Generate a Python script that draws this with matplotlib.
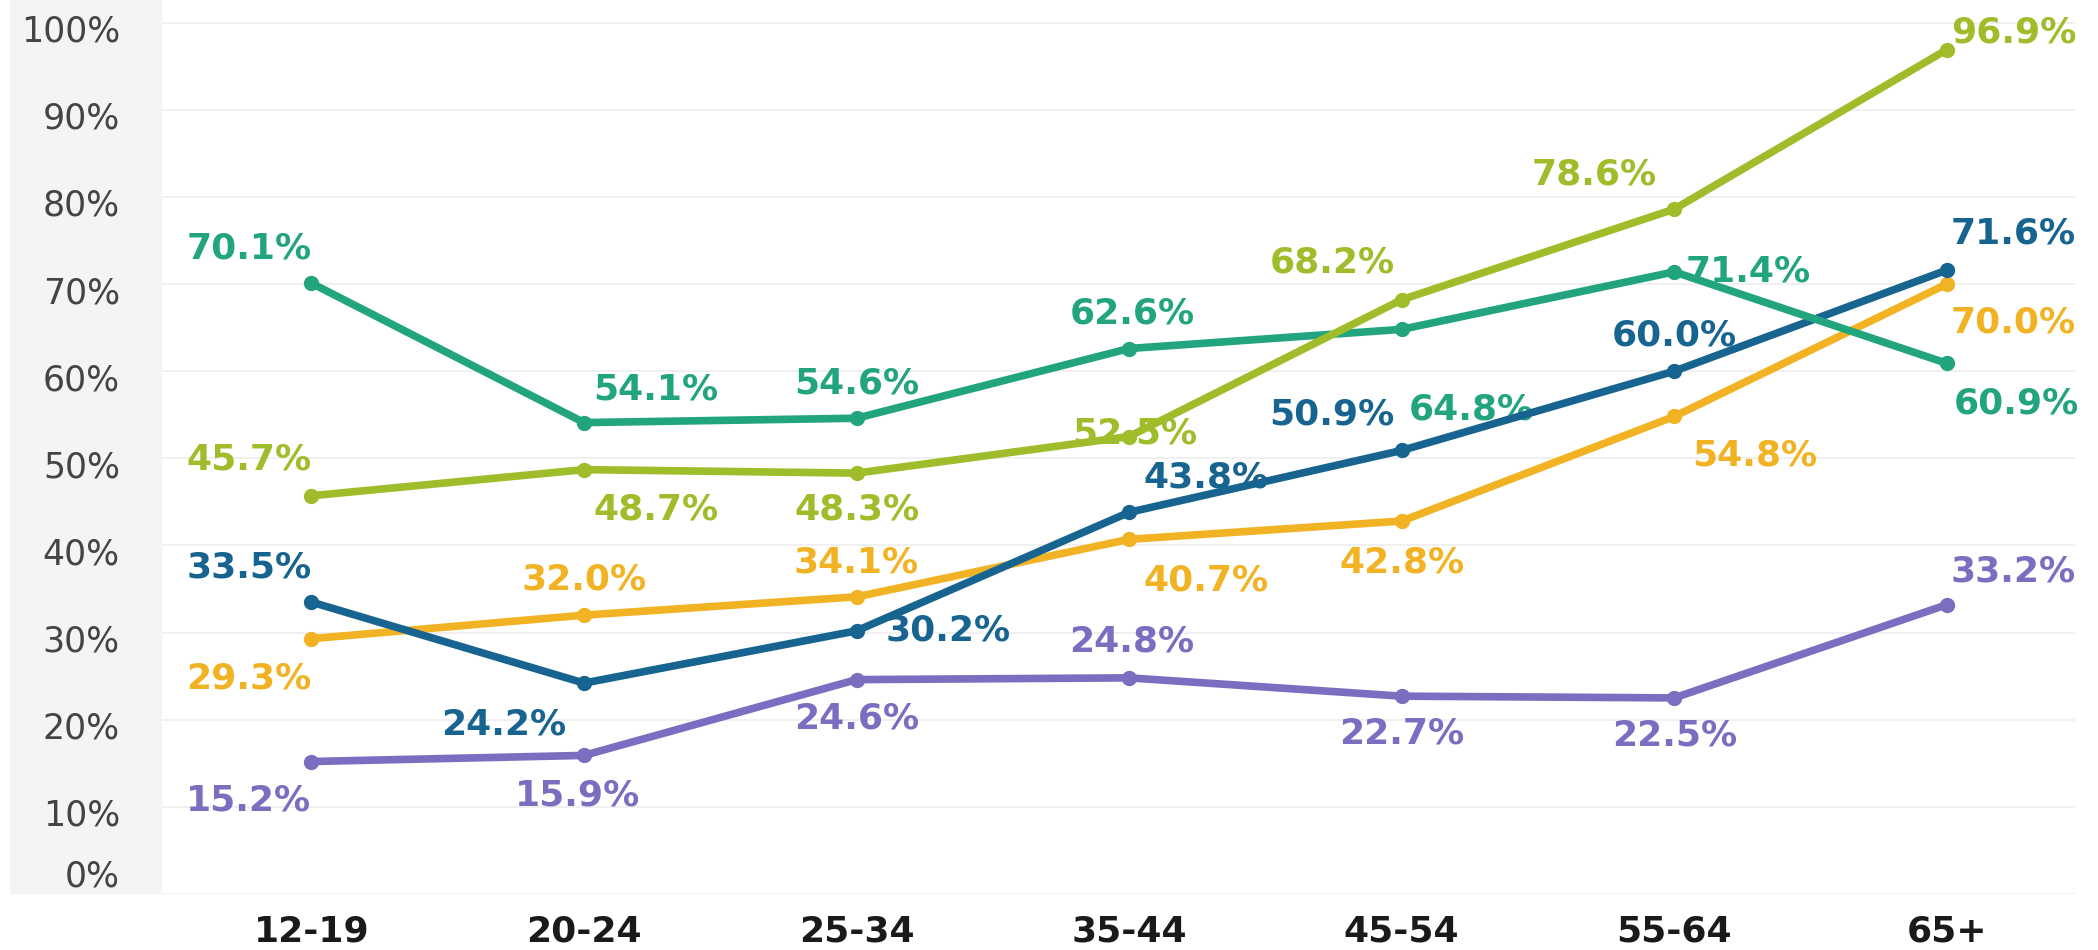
import numpy as np
import matplotlib.pyplot as plt
from matplotlib.patches import Rectangle
from matplotlib.transforms import ScaledTranslation

age_groups = ['12-19', '20-24', '25-34', '35-44', '45-54', '55-64', '65+']

# series values (%)
teal_vals = [70.1, 54.1, 54.6, 62.6, 64.8, 71.4, 60.9]
lime_vals = [45.7, 48.7, 48.3, 52.5, 68.2, 78.6, 96.9]
blue_vals = [33.5, 24.2, 30.2, 43.8, 50.9, 60.0, 71.6]
gold_vals = [29.3, 32.0, 34.1, 40.7, 42.8, 54.8, 70.0]
purple_vals = [15.2, 15.9, 24.6, 24.8, 22.7, 22.5, 33.2]

y_ticks = [0, 10, 20, 30, 40, 50, 60, 70, 80, 90, 100]

# label offsets in points (dx, dy), one per point
teal_off = [(-45, 25), (52, 24), (0, 25), (2, 25), (50, -58), (53, 0), (50, -29)]
lime_off = [(-45, 26), (52, -29), (0, -26), (4, 2), (-50, 27), (-58, 25), (48, 12)]
blue_off = [(-45, 25), (-58, -30), (66, 0), (55, 25), (-50, 26), (0, 26), (48, 26)]
gold_off = [(-45, -29), (0, 26), (0, 25), (55, -30), (0, -30), (58, -28), (48, -28)]
purple_off = [(-45, -28), (-5, -29), (0, -28), (2, 26), (0, -27), (0, -27), (48, 24)]

series = [
    (purple_vals, purple_off, '#7a6ec0'),
    (gold_vals, gold_off, '#f1b323'),
    (blue_vals, blue_off, '#16648f'),
    (teal_vals, teal_off, '#22a57f'),
    (lime_vals, lime_off, '#9fbd2a'),
]

fig = plt.figure(figsize=(20.98, 9.5), dpi=100)
fig.patches.append(Rectangle((0.005, 0.059), 0.072, 0.941, transform=fig.transFigure,
                             facecolor='#f4f4f4', edgecolor='none', zorder=-5))
ax = fig.add_axes([0.077, 0.059, 0.912, 0.941])
ax.set_facecolor('none')
ax.set_zorder(2)

x = np.arange(len(age_groups))
for vals, offs, col in series:
    ax.plot(x, vals, color=col, lw=5.5, marker='o', ms=10, solid_capstyle='round', zorder=3)
    for xi, v, (dx, dy) in zip(x, vals, offs):
        ax.annotate(f'{v:.1f}%', (xi, v), xytext=(dx, dy), textcoords='offset points',
                    ha='center', va='center', fontsize=26, fontweight='bold',
                    color=col, zorder=2)

ax.set_xlim(-0.55, 6.47)
ax.set_ylim(0, 102.6)
ax.set_xticks(x)
ax.set_xticklabels(age_groups, fontsize=26, fontweight='bold', color='#1a1a1a')
ax.set_yticks(y_ticks)
ax.set_yticklabels([f'{t}%' for t in y_ticks], fontsize=25, color='#444444')
ax.yaxis.grid(True, color='#eeeeee', lw=1.2, zorder=0)
ax.tick_params(axis='y', length=0, pad=30)
ax.tick_params(axis='x', length=0, pad=15)
for s in ax.spines.values():
    s.set_visible(False)
shift = ScaledTranslation(0, -4 / 72, fig.dpi_scale_trans)
for lab in ax.get_yticklabels()[1:]:
    lab.set_transform(lab.get_transform() + shift)
ax.get_yticklabels()[0].set_va('bottom')

fig.savefig('out.png', dpi=100)
